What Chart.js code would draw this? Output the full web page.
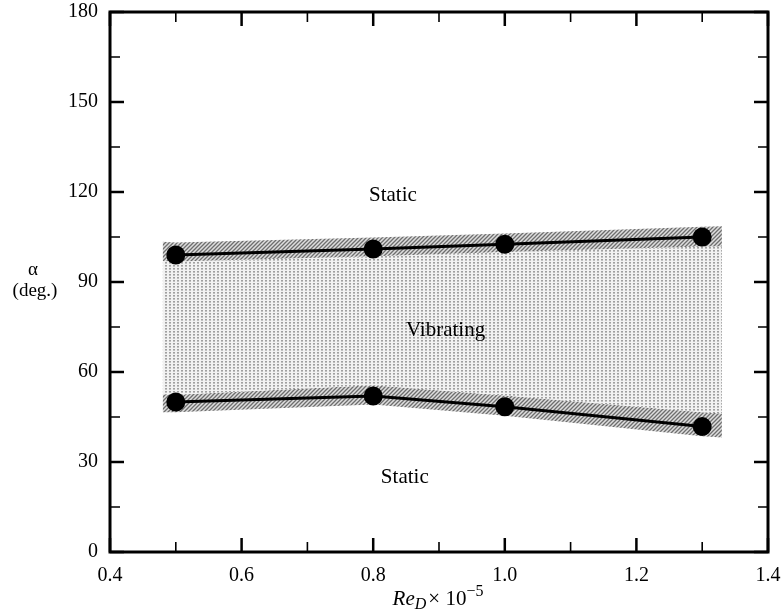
<!DOCTYPE html>
<html>
<head>
<meta charset="utf-8">
<script src="https://cdn.jsdelivr.net/npm/chart.js@4.4.1/dist/chart.umd.min.js"></script>
<style>
  html, body { margin: 0; padding: 0; background: #fff; }
  #wrap { width: 781px; height: 615px; position: relative; }
</style>
</head>
<body>
<div id="wrap"><canvas id="regime-chart"></canvas></div>
<script>
// measured boundaries (Re_D x 1e-5 vs alpha in degrees)
const reD = [0.5, 0.8, 1.0, 1.3];
const upperAlpha = [99, 101, 102.6, 105];
const lowerAlpha = [50, 52, 48.4, 41.8];

// shaded band edges around the two boundaries
const bandRe = [0.48, 0.5, 0.8, 1.0, 1.3, 1.33];
const upperHatchTop = [103.4, 103.2, 104.8, 106.2, 108.4, 108.6];
const upperHatchBottom = [97, 96.8, 98.6, 100, 101.8, 101.8];
const lowerHatchTop = [52.6, 52.4, 55.6, 52.2, 46.6, 46.2];
const lowerHatchBottom = [46.6, 46.6, 49.2, 45.4, 38.6, 38.2];

const xTicks = [0.4, 0.6, 0.8, 1.0, 1.2, 1.4];
const yTicks = [0, 30, 60, 90, 120, 150, 180];

const regionText = ['Static', 'Vibrating', 'Static'];
const regionRe = [0.83, 0.91, 0.848];
const regionAlpha = [118.7, 73.7, 25];

const serif = '"Liberation Serif", "Times New Roman", serif';

function pts(xs, ys) {
    return xs.map((x, i) => ({ x: x, y: ys[i] }));
}

// diagonal hatch
function hatchPattern() {
    let c = document.createElement('canvas');
    c.width = 4; c.height = 4;
    let g = c.getContext('2d');
    g.fillStyle = '#dedede';
    g.fillRect(0, 0, 4, 4);
    g.strokeStyle = '#6e6e6e';
    g.lineWidth = 1.3;
    g.beginPath();
    g.moveTo(-1, 5); g.lineTo(5, -1);
    g.moveTo(-1, 1); g.lineTo(1, -1);
    g.moveTo(3, 5); g.lineTo(5, 3);
    g.stroke();
    return g.createPattern(c, 'repeat');
}

// stipple for the vibrating region
function dotPattern() {
    let c = document.createElement('canvas');
    c.width = 4; c.height = 3;
    let g = c.getContext('2d');
    g.fillStyle = '#f2f2f2';
    g.fillRect(0, 0, 4, 3);
    g.fillStyle = '#a0a0a0';
    g.fillRect(1, 1, 2, 1.6);
    return g.createPattern(c, 'repeat');
}

const hatch = hatchPattern();
const dots = dotPattern();

const band = {
    type: 'line',
    borderWidth: 0,
    pointRadius: 0,
    tension: 0,
    order: 2
};

// drop the extra room chart.js reserves for overhanging tick labels
function noOverhang(s) {
    s.paddingTop = 0; s.paddingBottom = 0;
    s.paddingLeft = 0; s.paddingRight = 0;
}

const framePlugin = {
    id: 'frame',
    afterDatasetsDraw(chart) {
        const ctx = chart.ctx;
        const a = chart.chartArea;
        const xs = chart.scales.x, ys = chart.scales.y;
        ctx.save();
        ctx.strokeStyle = '#000';
        ctx.lineWidth = 3;
        ctx.strokeRect(a.left, a.top, a.right - a.left, a.bottom - a.top);

        const tick = (p, len, w, horiz) => {
            ctx.lineWidth = w;
            ctx.beginPath();
            if (horiz) {
                ctx.moveTo(p, a.bottom); ctx.lineTo(p, a.bottom - len);
                ctx.moveTo(p, a.top); ctx.lineTo(p, a.top + len);
            } else {
                ctx.moveTo(a.left, p); ctx.lineTo(a.left + len, p);
                ctx.moveTo(a.right, p); ctx.lineTo(a.right - len, p);
            }
            ctx.stroke();
        };
        xTicks.forEach((v, i) => {
            tick(xs.getPixelForValue(v), 14, 2.5, true);
            if (i < xTicks.length - 1) tick(xs.getPixelForValue((v + xTicks[i + 1]) / 2), 10, 1.6, true);
        });
        yTicks.forEach((v, i) => {
            tick(ys.getPixelForValue(v), 14, 2.5, false);
            if (i < yTicks.length - 1) tick(ys.getPixelForValue((v + yTicks[i + 1]) / 2), 10, 1.6, false);
        });

        // region names
        ctx.fillStyle = '#000';
        ctx.font = '21px ' + serif;
        ctx.textAlign = 'center';
        ctx.textBaseline = 'middle';
        regionText.forEach((t, i) => {
            ctx.fillText(t, xs.getPixelForValue(regionRe[i]), ys.getPixelForValue(regionAlpha[i]));
        });

        // y axis title
        ctx.font = '19px ' + serif;
        ctx.fillText('\u03b1', 33, 270);
        ctx.fillText('(deg.)', 35, 291);

        // x axis title: Re_D x 10^-5
        const cx = 438;
        const base = 605;
        const parts = [
            { t: 'Re', f: 'italic 21px ' + serif, dy: 0 },
            { t: 'D', f: 'italic 16px ' + serif, dy: 4 },
            { t: '\u00d7', f: '21px ' + serif, dy: 0, pre: 2 },
            { t: ' 10', f: '21px ' + serif, dy: 0 },
            { t: '\u22125', f: '16px ' + serif, dy: -9 }
        ];
        let total = 0;
        parts.forEach(p => { ctx.font = p.f; p.w = ctx.measureText(p.t).width + (p.pre || 0); total += p.w; });
        let x = cx - total / 2;
        ctx.textAlign = 'left';
        ctx.textBaseline = 'alphabetic';
        parts.forEach(p => {
            ctx.font = p.f;
            ctx.fillText(p.t, x + (p.pre || 0), base + p.dy);
            x += p.w;
        });
        ctx.restore();
    }
};

new Chart(document.getElementById('regime-chart'), {
    type: 'scatter',
    data: {
        datasets: [
            Object.assign({ data: pts(bandRe, upperHatchTop), fill: '+1', backgroundColor: hatch }, band),
            Object.assign({ data: pts(bandRe, upperHatchBottom), fill: '+1', backgroundColor: dots }, band),
            Object.assign({ data: pts(bandRe, lowerHatchTop), fill: '+1', backgroundColor: hatch }, band),
            Object.assign({ data: pts(bandRe, lowerHatchBottom), fill: false }, band),
            {
                type: 'line',
                data: pts(reD, upperAlpha),
                borderColor: '#000',
                backgroundColor: '#000',
                borderWidth: 3,
                pointRadius: 8,
                tension: 0,
                fill: false,
                order: 0
            },
            {
                type: 'line',
                data: pts(reD, lowerAlpha),
                borderColor: '#000',
                backgroundColor: '#000',
                borderWidth: 3,
                pointRadius: 8,
                tension: 0,
                fill: false,
                order: 0
            }
        ]
    },
    options: {
        responsive: true,
        maintainAspectRatio: false,
        animation: false,
        layout: { padding: { left: 0, right: 13, top: 12, bottom: 0 } },
        plugins: {
            legend: { display: false },
            tooltip: { enabled: false }
        },
        scales: {
            x: {
                type: 'linear',
                min: 0.4, max: 1.4,
                afterBuildTicks: s => { s.ticks = xTicks.map(v => ({ value: v })); },
                afterFit: s => { s.height = 63; noOverhang(s); },
                grid: { display: false, drawTicks: false },
                border: { display: false },
                ticks: {
                    padding: 12,
                    color: '#000',
                    font: { family: serif, size: 20 },
                    callback: v => v.toFixed(1)
                }
            },
            y: {
                min: 0, max: 180,
                afterBuildTicks: s => { s.ticks = yTicks.map(v => ({ value: v })); },
                afterFit: s => { s.width = 110; noOverhang(s); },
                grid: { display: false, drawTicks: false },
                border: { display: false },
                ticks: {
                    padding: 12,
                    color: '#000',
                    font: { family: serif, size: 20 }
                }
            }
        }
    },
    plugins: [framePlugin]
});
</script>
</body>
</html>
